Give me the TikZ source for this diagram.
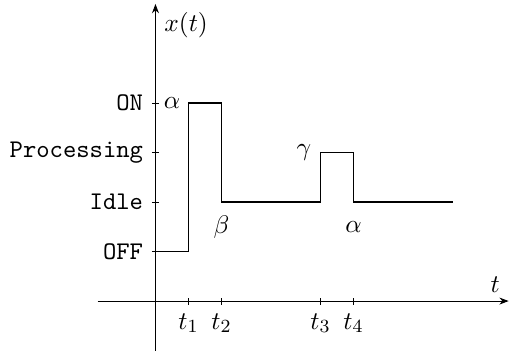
\documentclass[tikz,border=0pt,11pt]{standalone}
\usepackage{tikz}
\usetikzlibrary{arrows.meta,positioning}

\begin{document}
\begin{tikzpicture}[x=0.5cm, y=0.75cm,
    axis/.style={line width=0.4pt, -{Stealth[length=4pt, width=3pt]}},
    level/.style={left, font=\ttfamily},
    signal/.style={thick, line join=miter}]
  \useasboundingbox (-4.71,-0.99) rectangle (10.74,6.08);
  % axes
  \draw[axis] (0,-1) -- (0,6) node[below right] (xlab) {$x(t)$};
  \draw[axis] (-1.75,0) -- (10.7,0) node[above left] (tlab) {$t$};
  % state levels on the vertical axis
  \foreach \y/\lab/\nm in {1/OFF/off, 2/Idle/idle, 3/Processing/proc, 4/ON/on}{
    \draw (-1.5pt,\y) -- (1.5pt,\y);
    \node[level] (\nm) at (-1.5pt,\y) {\lab};}
  % switching instants
  \foreach \x/\i in {1/1, 2/2, 5/3, 6/4}{
    \draw (\x,-1.5pt) -- (\x,1.5pt);
    \node[below] (t\i) at (\x,-1.5pt) {$t_{\i}$};}
  % state trajectory
  \draw[signal] (0,1) -- (1,1) -- (1,4) -- (2,4) -- (2,2) -- (5,2)
        -- (5,3) -- (6,3) -- (6,2) -- (9,2);
  % transition labels
  \node (a1) at (0.5,4) {$\alpha$};
  \node (b1) at (2,1.5) {$\beta$};
  \node (g1) at (4.5,3) {$\gamma$};
  \node (a2) at (6,1.5) {$\alpha$};
\end{tikzpicture}
\end{document}
